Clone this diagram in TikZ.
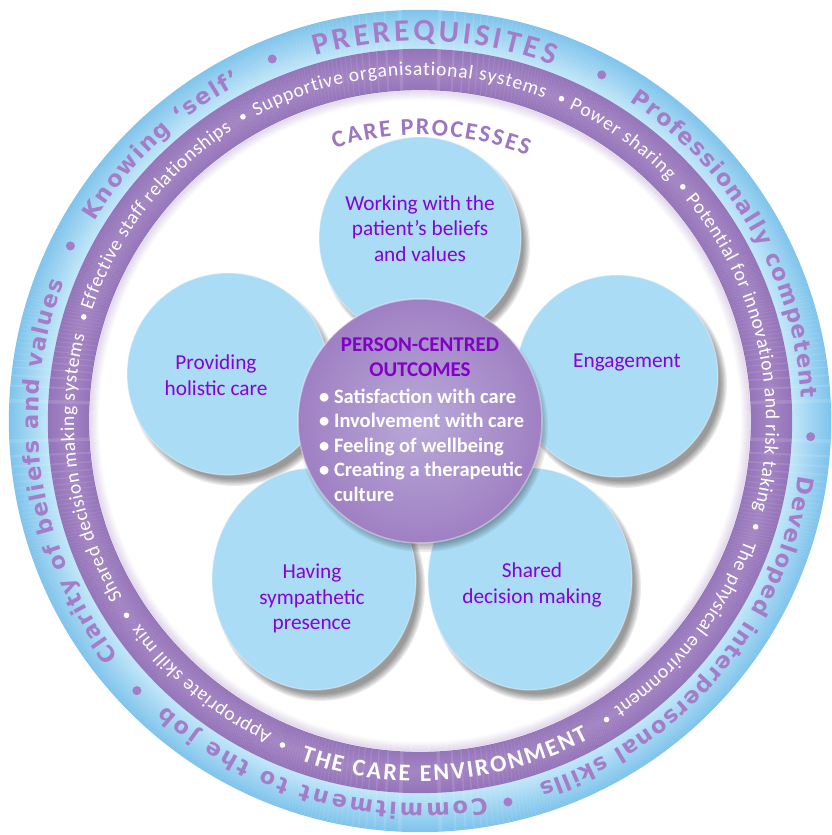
\documentclass[tikz,border=0pt]{standalone}
\usepackage{fontspec}
\setmainfont{Carlito}
\newfontfamily\ringfamily{DejaVu Sans}
\usepackage{tikz}
\usetikzlibrary{decorations.text}
\usetikzlibrary{shapes.geometric}
\usetikzlibrary{calc}

\definecolor{ringdark}{HTML}{80C4EC}
\definecolor{ringlight}{HTML}{C2E7F9}
\definecolor{ringpurple}{HTML}{A586C4}
\definecolor{ringpurpledark}{HTML}{9171B7}
\definecolor{outertext}{HTML}{A57CC7}
\definecolor{processtext}{HTML}{9B77C1}
\definecolor{petalblue}{HTML}{ABDCF5}
\definecolor{petalviolet}{HTML}{8A00D6}
\definecolor{titleviolet}{HTML}{8400C8}
\definecolor{hublight}{HTML}{B9A9D9}
\definecolor{hubdark}{HTML}{9F80C3}

\newcommand{\outerringfont}{\ringfamily\bfseries\fontsize{22.5}{26}\selectfont\color{outertext}}
\newcommand{\prereqfont}{\bfseries\fontsize{31}{36}\selectfont\color{outertext}}
\newcommand{\innerringfont}{\fontsize{19.5}{23}\selectfont\color{white}}
\newcommand{\careenvfont}{\bfseries\fontsize{24}{28}\selectfont\color{white}}
\newcommand{\processfont}{\bfseries\fontsize{24}{28}\selectfont\color{processtext}}

\tikzset{
  ringtext/.style={decorate, decoration={text along path, text align=fit to path}},
  petal/.style={ellipse, inner sep=0pt, fill=petalblue, draw=white, draw opacity=0.35, line width=1.2pt},
  petaltext/.style={align=center, text=petalviolet, font=\fontsize{21.3}{25.5}\selectfont},
  hub/.style={circle, inner sep=0pt, minimum size=244pt, inner color=hublight, outer color=hubdark,
    draw=white, draw opacity=0.4, line width=1.5pt},
  hubtitle/.style={align=center, text=titleviolet, font=\bfseries\fontsize{21}{25}\selectfont},
  hublist/.style={align=left, text=white, inner sep=0pt, font=\bfseries\fontsize{20.5}{24.5}\selectfont}
}

\begin{document}
\begin{tikzpicture}[x=1pt,y=1pt]
  \fill[white] (-420,-414) rectangle (411,421);
  \useasboundingbox (-420,-414) rectangle (411,421);

  % outer ring (prerequisites)
  \foreach \i in {0,...,38}
  {
    \pgfmathtruncatemacro\p{100*\i/38}
    \draw[ringdark!\p!ringlight, line width=1.3pt] (0,0) circle[radius={(372.5+\i)*1pt}];
  }
  % inner ring (care environment)
  \foreach \i in {0,...,40}
  {
    \pgfmathtruncatemacro\p{abs(\i-20)*4}
    \draw[ringpurpledark!\p!ringpurple, line width=1.3pt] (0,0) circle[radius={(331.5+\i)*1pt}];
  }
  \foreach \k in {1,...,10}
    \draw[ringpurple, draw opacity={0.28-0.027*\k}, line width=1.2pt] (0,0) circle[radius={(331-\k)*1pt}];

  % petal shadows
  \foreach \px/\py/\rx/\ry in {0/183/101/101,-192/47/101/101,197/45/101/101,-106/-158/102/111,110/-158/102/111}
    \foreach \k in {0,...,5}
      \fill[black, opacity=0.08] (\px+6,\py-8) ellipse[x radius={(\rx+3-1.3*\k)*1pt}, y radius={(\ry+3-1.3*\k)*1pt}];

  % petals
  \node[petal, minimum width=202pt, minimum height=202pt] (working) at (0,183) {};
  \node[petal, minimum width=202pt, minimum height=202pt] (holistic) at (-192,47) {};
  \node[petal, minimum width=202pt, minimum height=202pt] (engage) at (197,45) {};
  \node[petal, minimum width=204pt, minimum height=222pt] (presence) at (-106,-158) {};
  \node[petal, minimum width=204pt, minimum height=222pt] (decision) at (110,-158) {};

  \node[petaltext] (workingtext) at (0,192.5) {Working with the\\patient’s beliefs\\and values};
  \node[petaltext] (holistictext) at (-204,46) {Providing\\holistic care};
  \node[petaltext] (engagetext) at (207,59) {Engagement};
  \node[petaltext] (presencetext) at (-108,-177.5) {Having\\sympathetic\\presence};
  \node[petaltext] (decisiontext) at (112,-164) {Shared\\decision making};

  % centre
  \foreach \k in {0,...,5}
    \fill[black, opacity=0.06] (3,-6) circle[radius={(125-1.5*\k)*1pt}];
  \node[hub] (hub) at (0,0) {};
  \node[hubtitle] (outcomes) at (0,63.5) {PERSON-CENTRED\\OUTCOMES};
  \node[hublist, anchor=west] (outcomelist) at (-101,-24)
    {• Satisfaction with care\\• Involvement with care\\• Feeling of wellbeing\\• Creating a therapeutic\\\phantom{• }culture};

  % texts round the outer ring
  \path[ringtext, decoration={text={|\prereqfont|PREREQUISITES}}] (106:380pt) arc[start angle=106, end angle=69.5, radius=380pt];
  \path[ringtext, decoration={text={|\outerringfont|Professionally competent}}] (56.7:382pt) arc[start angle=56.7, end angle=3.4, radius=382pt];
  \path[ringtext, decoration={text={|\outerringfont|Developed interpersonal skills}}] (-8.2:382pt) arc[start angle=-8.2, end angle=-71.9, radius=382pt];
  \path[ringtext, decoration={text={|\outerringfont|Commitment to the job}}] (-80:382pt) arc[start angle=-80, end angle=-131.8, radius=382pt];
  \path[ringtext, decoration={text={|\outerringfont|Clarity of beliefs and values}}] (218:382pt) arc[start angle=218, end angle=158.7, radius=382pt];
  \path[ringtext, decoration={text={|\outerringfont|Knowing ‘self’}}] (148.5:382pt) arc[start angle=148.5, end angle=118, radius=382pt];
  \foreach \a in {62.3,-2.3,-77,-136.4,153.4,112.2}
    \fill[outertext] (\a:391pt) circle[radius=4.5pt];

  % texts round the inner ring
  \path[ringtext, decoration={text={|\innerringfont|Supportive organisational systems}}] (118.2:346pt) arc[start angle=118.2, end angle=69, radius=346pt];
  \path[ringtext, decoration={text={|\innerringfont|Power sharing}}] (64.5:346pt) arc[start angle=64.5, end angle=44, radius=346pt];
  \path[ringtext, decoration={text={|\innerringfont|Potential for innovation and risk taking}}] (39.9:346pt) arc[start angle=39.9, end angle=-15, radius=346pt];
  \path[ringtext, decoration={text={|\innerringfont|The physical environment}}] (-20.2:346pt) arc[start angle=-20.2, end angle=-56, radius=346pt];
  \path[ringtext, decoration={text={|\careenvfont|THE CARE ENVIRONMENT}}] (-109.4:360pt) arc[start angle=-109.4, end angle=-62, radius=360pt];
  \path[ringtext, decoration={text={|\innerringfont|Appropriate skill mix}}] (-115.3:346pt) arc[start angle=-115.3, end angle=-144.1, radius=346pt];
  \path[ringtext, decoration={text={|\innerringfont|Shared decision making systems}}] (210.7:346pt) arc[start angle=210.7, end angle=165.6, radius=346pt];
  \path[ringtext, decoration={text={|\innerringfont|Effective staff relationships}}] (161.4:346pt) arc[start angle=161.4, end angle=122.9, radius=346pt];
  \foreach \a in {66.3,41.7,-17.5,-58,-113,-146.5,162.8,120.2}
    \fill[white] (\a:352pt) circle[radius=2.8pt];

  \path[ringtext, decoration={text={|\processfont|CARE PROCESSES}}] (107.4:286pt) arc[start angle=107.4, end angle=68, radius=286pt];
\end{tikzpicture}
\end{document}
